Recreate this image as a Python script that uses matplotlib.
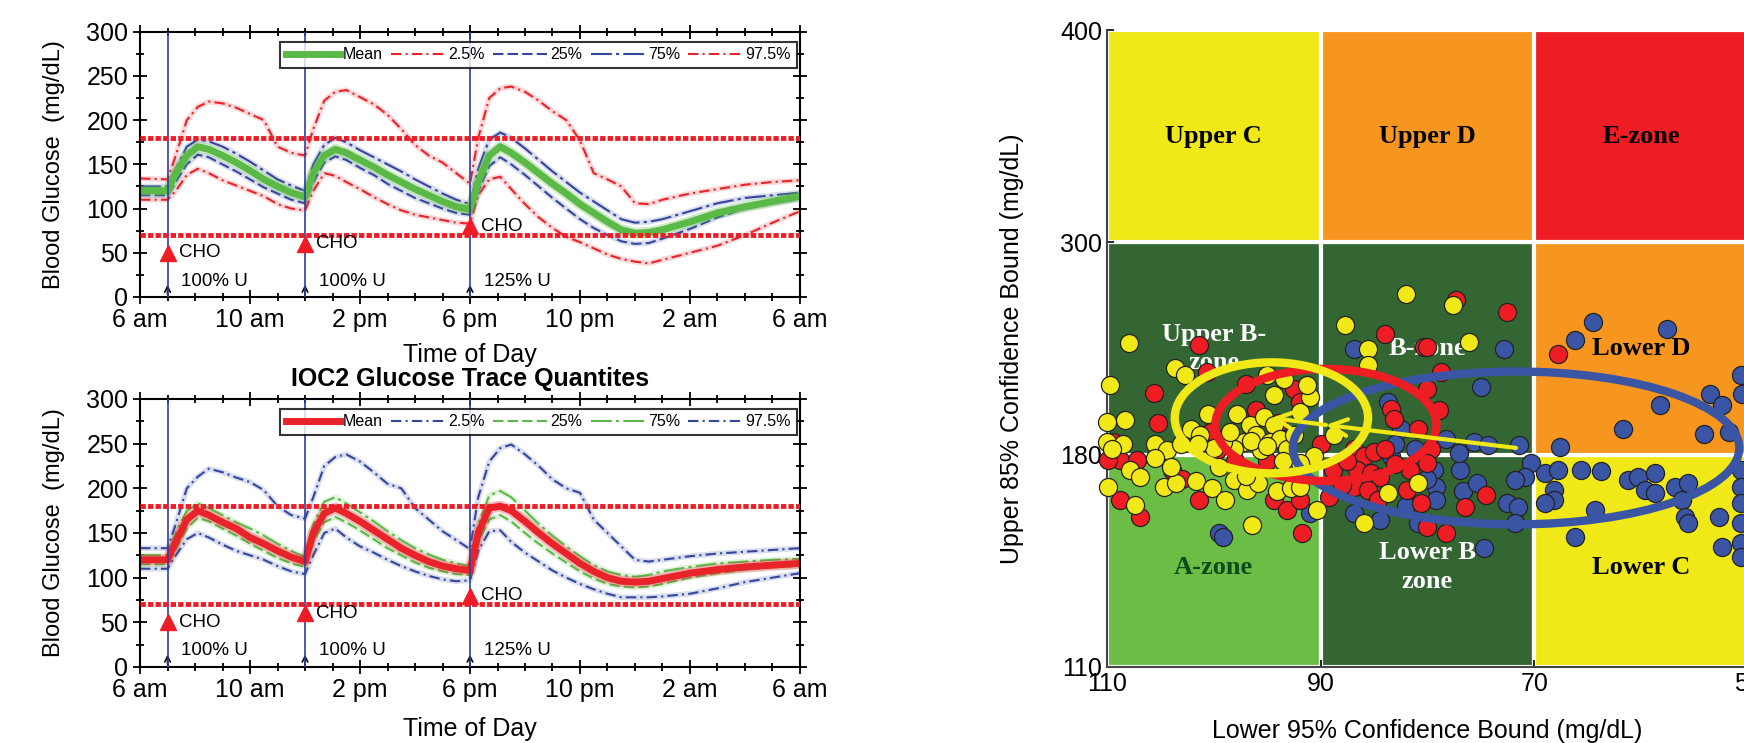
import matplotlib

matplotlib.use("Agg")
import matplotlib.pyplot as plt
import numpy as np
from matplotlib.patches import Rectangle, Ellipse
from matplotlib.ticker import MultipleLocator

plt.rcParams["font.family"] = ["Liberation Sans", "DejaVu Sans"]

# ---- glucose trace quantiles (hours after 6 am) ----
HOURS = [0, 1, 1.3, 1.7, 2.1, 2.5, 3, 3.5, 4, 4.5, 5, 5.5, 6,
         6.3, 6.7, 7.1, 7.5, 8, 8.5, 9, 9.5, 10, 10.5, 11, 11.5, 12,
         12.3, 12.7, 13.1, 13.5, 14, 14.5, 15, 15.5, 16, 16.5, 17, 17.5, 18, 18.5,
         19, 20, 21, 22, 23, 24]

TOP_MEAN = [120, 120, 140, 160, 170, 167, 160, 152, 143, 133, 125, 118, 113,
            140, 160, 167, 163, 155, 147, 138, 130, 122, 115, 108, 102, 99,
            130, 160, 170, 163, 152, 140, 128, 117, 105, 95, 85, 76, 72, 73,
            76, 85, 95, 102, 108, 114]
TOP_Q025 = [110, 110, 120, 138, 145, 140, 132, 126, 120, 114, 105, 100, 98,
            120, 140, 137, 130, 122, 113, 105, 98, 93, 90, 87, 84, 83,
            115, 133, 136, 122, 105, 90, 78, 68, 62, 55, 48, 43, 40, 38,
            42, 50, 58, 70, 84, 97]
TOP_Q25 = [115, 115, 130, 150, 161, 158, 150, 142, 133, 124, 117, 110, 106,
           130, 152, 159, 155, 146, 138, 128, 120, 112, 106, 100, 95, 93,
           120, 148, 158, 150, 138, 125, 112, 100, 88, 78, 70, 63, 60, 61,
           66, 77, 90, 100, 106, 111]
TOP_Q75 = [125, 125, 145, 170, 178, 176, 170, 162, 153, 143, 133, 126, 120,
           150, 172, 180, 175, 166, 158, 150, 142, 133, 125, 117, 110, 105,
           145, 178, 186, 180, 168, 155, 142, 130, 118, 108, 98, 88, 84, 85,
           88, 97, 106, 112, 115, 118]
TOP_Q975 = [134, 133, 160, 200, 215, 221, 219, 214, 207, 200, 170, 163, 160,
            190, 222, 232, 234, 226, 218, 206, 190, 172, 160, 152, 140, 128,
            180, 225, 236, 238, 232, 222, 210, 200, 177, 140, 133, 125, 106, 105,
            110, 117, 122, 127, 130, 132]

BOT_MEAN = [120, 120, 140, 165, 175, 170, 162, 155, 145, 138, 130, 123, 118,
            150, 172, 178, 172, 163, 153, 143, 133, 125, 118, 113, 110, 108,
            150, 178, 180, 175, 163, 150, 138, 127, 116, 107, 100, 96, 95, 96,
            99, 105, 109, 112, 114, 116]
BOT_Q025 = [110, 110, 125, 143, 150, 145, 137, 130, 125, 120, 113, 107, 104,
            125, 150, 155, 145, 135, 128, 120, 113, 107, 102, 98, 96, 97,
            130, 152, 153, 140, 128, 118, 108, 100, 93, 87, 82, 78, 78, 78,
            79, 82, 88, 95, 100, 105]
BOT_Q25 = [115, 115, 132, 155, 167, 163, 155, 147, 138, 130, 122, 116, 112,
           140, 162, 168, 162, 153, 143, 133, 125, 117, 111, 107, 104, 103,
           140, 165, 170, 163, 150, 138, 127, 117, 107, 99, 93, 90, 89, 90,
           93, 100, 105, 109, 112, 113]
BOT_Q75 = [125, 125, 150, 175, 183, 178, 170, 162, 155, 147, 138, 130, 123,
           160, 185, 190, 183, 173, 163, 152, 142, 133, 126, 120, 116, 113,
           160, 192, 197, 190, 175, 160, 147, 135, 124, 114, 107, 103, 101, 103,
           107, 112, 116, 118, 120, 121]
BOT_Q975 = [133, 133, 160, 200, 213, 222, 218, 212, 207, 198, 180, 170, 166,
            190, 225, 235, 238, 230, 218, 205, 200, 178, 165, 152, 142, 132,
            190, 230, 245, 249, 238, 225, 210, 200, 195, 165, 150, 135, 120, 118,
            120, 124, 127, 129, 131, 133]

TIME_TICKS = [0, 4, 8, 12, 16, 20, 24]
TIME_LABELS = ["6 am", "10 am", "2 pm", "6 pm", "10 pm", "2 am", "6 am"]
MEAL_HOURS = [1, 6, 12]
CHO_LEVEL = [50, 60, 80]
INSULIN_LABELS = ["100% U", "100% U", "125% U"]
TARGET_LIMITS = [70, 180]
QUANT_LABELS = ["Mean", "2.5%", "25%", "75%", "97.5%"]

# ---- error grid (right) ----
ZONE_X_EDGES = [110, 90, 70, 50]
ZONE_Y_EDGES = [110, 180, 300, 400]
ZONE_NAMES = [["A-zone", "Lower B\nzone", "Lower C"],
              ["Upper B-\nzone", "B-zone", "Lower D"],
              ["Upper C", "Upper D", "E-zone"]]
ZONE_COLORS = [["#6bbd45", "#336632", "#f1e917"],
               ["#336632", "#336632", "#f7961e"],
               ["#f1e917", "#f7961e", "#ee1d24"]]
ZONE_TEXT_COLORS = [["#0d4a1c", "white", "black"],
                    ["white", "white", "black"],
                    ["black", "black", "black"]]

YELLOW_X = [107.9, 109.7, 103.6, 102.7, 108.3, 110.0, 110.0, 105.5, 104.4, 103.1,
            102.1, 101.3, 100.5, 97.8, 96.6, 95.3, 94.4, 96.0, 97.2, 94.7,
            93.8, 93.1, 95.6, 98.1, 99.1, 92.5, 91.9, 91.0, 94.4, 95.0,
            93.4, 91.3, 107.8, 106.9, 109.9, 107.4, 104.7, 103.5, 101.7, 100.2,
            98.9, 98.1, 96.9, 95.9, 94.1, 92.8, 91.9, 90.3, 96.4, 90.6,
            91.9, 88.7, 87.7, 85.6, 85.6, 82.0, 83.7, 80.9, 85.9, 77.6,
            76.1, 96.5, 98.5, 95.0, 100.0, 101.5, 105.5, 108.5, 109.5, 104.0,
            97.0, 93.5, 99.5]
YELLOW_Y = [243.3, 219.6, 229.0, 224.8, 199.4, 198.5, 187.2, 186.2, 182.5, 186.2,
            194.7, 191.0, 203.2, 203.2, 196.6, 201.3, 196.6, 191.0, 187.2, 187.2,
            189.1, 183.4, 182.5, 183.4, 187.2, 191.0, 204.1, 212.6, 213.5, 224.8,
            222.9, 219.2, 175.0, 172.8, 169.5, 163.5, 169.5, 170.6, 171.2, 169.0,
            165.1, 171.7, 168.4, 170.6, 167.9, 169.0, 169.5, 161.8, 156.9, 179.4,
            177.2, 191.0, 253.1, 239.9, 230.5, 271.0, 167.3, 170.6, 157.4, 264.4,
            243.7, 188, 193, 185, 184, 186, 179, 186, 183, 176,
            173, 178, 176]
RED_X = [101.4, 100.6, 105.6, 105.2, 100.3, 97.0, 92.5, 91.9, 109.4, 108.8,
         109.9, 107.2, 103.9, 101.4, 99.7, 95.0, 94.4, 93.1, 91.9, 108.8,
         106.9, 91.7, 89.2, 84.0, 80.3, 83.4, 83.1, 86.9, 85.9, 85.0,
         84.0, 86.6, 85.3, 84.4, 86.9, 85.6, 84.6, 80.9, 81.6, 81.9,
         80.6, 88.8, 77.3, 72.5, 80.0, 78.7, 80.0, 78.9, 67.8, 79.7,
         80.0, 74.5, 76.5, 80.0, 78.3, 87.5, 83.0, 88.0, 96.0, 94.0,
         98.0, 103.0, 90.0]
RED_Y = [241.8, 226.7, 215.1, 198.1, 192.8, 220.1, 217.3, 209.8, 187.2, 178.3,
         178.3, 178.3, 175.0, 165.1, 182.5, 177.8, 165.1, 161.8, 165.1, 165.1,
         159.6, 154.1, 166.2, 248.4, 240.8, 206.0, 200.4, 183.4, 179.4, 181.5,
         183.4, 175.0, 173.9, 172.8, 169.5, 168.4, 165.1, 194.7, 175.0, 168.4,
         164.0, 175.0, 267.2, 260.6, 240.9, 226.7, 217.3, 205.1, 237.1, 183.4,
         177.2, 166.8, 162.9, 156.3, 154.1, 178, 177, 170, 205, 198,
         178, 172, 186]
BLUE_X = [99.5, 99.1, 86.9, 83.7, 82.5, 83.4, 81.2, 91.0, 86.9, 84.4,
          80.9, 64.5, 66.2, 57.6, 72.8, 75.0, 53.5, 52.4, 58.2, 61.7,
          54.1, 51.8, 50.6, 67.6, 71.4, 75.6, 74.3, 76.9, 79.4, 79.2,
          76.7, 79.2, 75.4, 72.5, 71.5, 70.3, 70.9, 71.8, 69.0, 67.8,
          68.1, 68.1, 69.0, 65.6, 63.7, 61.2, 60.3, 58.7, 59.6, 58.7,
          56.8, 55.6, 56.2, 64.3, 66.2, 74.7, 71.8, 55.9, 55.6, 52.7,
          52.4, 50.6, 50.6, 50.6, 50.6, 50.6, 50.6, 50.5, 78.3, 83.0,
          80.0, 77.0, 82.0]
BLUE_Y = [154.1, 153.0, 239.9, 209.8, 194.7, 179.4, 183.4, 160.7, 160.7, 158.5,
          157.4, 255.0, 244.6, 251.2, 239.9, 218.2, 214.5, 207.9, 207.9, 194.7,
          191.9, 192.8, 224.8, 184.4, 185.3, 187.2, 185.3, 175.0, 175.0, 169.5,
          167.9, 165.1, 170.6, 164.0, 162.9, 177.2, 172.8, 171.7, 173.9, 175.0,
          168.4, 165.1, 164.0, 175.0, 174.5, 171.7, 172.8, 173.9, 168.4, 167.3,
          169.5, 170.6, 165.1, 161.8, 153.0, 149.2, 157.4, 159.6, 157.4, 159.6,
          149.7, 175.0, 169.5, 164.0, 157.4, 150.8, 146.4, 214.5, 189.1, 186,
          172, 181, 163]

# confidence ellipses: centre (x, y in mg/dL), width (mg/dL), height (zone units)
ELLIPSE_CENTERS = [(71.7, 183.8), (89.5, 196.8), (94.6, 200.8)]
ELLIPSE_WIDTHS = [41.8, 20.7, 18.1]
ELLIPSE_HEIGHTS = [0.72, 0.528, 0.523]

RED = "#e8232a"
BLUE = "#34469e"
GREEN = "#5bb947"
YELLOW = "#f1e917"
DASHDOT = (0, (5, 2, 1, 2))
DASHED = (0, (5, 2))
LONGDASH = (0, (10, 2, 1.5, 2))


def zone_u(v):
    return np.interp(v, ZONE_Y_EDGES, [0, 1, 2, 3])


def draw_trace(ax, mean, q025, q25, q75, q975, mean_col, outer_col, inner_col, xpad):
    hrs = np.array(HOURS)
    specs = [(q025, outer_col, DASHDOT, "2.5%"), (q25, inner_col, DASHED, "25%"),
             (q75, inner_col, LONGDASH, "75%"), (q975, outer_col, DASHDOT, "97.5%")]
    handles = []
    for vals, col, ls, lab in specs:
        ax.plot(hrs, vals, color=col, lw=4, alpha=0.18, solid_capstyle="round")
        ln, = ax.plot(hrs, vals, color=col, lw=1.5, linestyle=ls, label=lab)
        handles.append(ln)
    ax.plot(hrs, mean, color=mean_col, lw=8, alpha=0.3)
    m, = ax.plot(hrs, mean, color=mean_col, lw=5, label="Mean")
    handles.insert(0, m)

    for lvl in TARGET_LIMITS:
        ax.axhline(lvl, color="#ee1c25", lw=3.5, linestyle=(0, (1.1, 0.45)), zorder=5)
    for h in MEAL_HOURS:
        ax.axvline(h, color="#2e3f9e", lw=1.2, zorder=4)

    ax.plot(MEAL_HOURS, CHO_LEVEL, "^", color="#ee1c25", ms=12, zorder=6, clip_on=False)
    for h, c, lab in zip(MEAL_HOURS, CHO_LEVEL, INSULIN_LABELS):
        ax.text(h + 0.4, c, "CHO", fontsize=13.5, va="center", ha="left", zorder=6)
        ax.annotate("", xy=(h, 17), xytext=(h, 0),
                    arrowprops=dict(arrowstyle="->", color="black", lw=1.2))
        ax.text(h + 0.5, 18, lab, fontsize=13.5, va="center", ha="left")

    ax.set_xlim(0, 24)
    ax.set_ylim(0, 300)
    ax.set_xticks(TIME_TICKS)
    ax.set_xticklabels(TIME_LABELS)
    ax.xaxis.set_minor_locator(MultipleLocator(1))
    ax.set_yticks(range(0, 301, 50))
    ax.yaxis.set_minor_locator(MultipleLocator(25))
    ax.tick_params(which="both", direction="inout", top=True, right=True, labelsize=18, width=1.3)
    ax.tick_params(which="major", length=10)
    ax.tick_params(which="minor", length=6)
    ax.tick_params(axis="x", pad=3)
    for s in ax.spines.values():
        s.set_linewidth(1.5)
    ax.set_xlabel("Time of Day", fontsize=18, labelpad=xpad)
    ax.set_ylabel("Blood Glucose  (mg/dL)", fontsize=17, labelpad=15)
    leg = ax.legend(handles=handles, labels=QUANT_LABELS, loc="upper right",
                    bbox_to_anchor=(1.0, 0.975), ncol=5, fontsize=11.5, frameon=True,
                    fancybox=False, edgecolor="black", handlelength=3.4,
                    handletextpad=0.2, columnspacing=0.5, borderpad=0.35,
                    borderaxespad=0.2)
    leg.get_frame().set_linewidth(1.5)
    leg.set_zorder(10)


fig = plt.figure(figsize=(17.44, 7.43), dpi=100)

ax1 = fig.add_axes([0.0803, 0.6003, 0.3784, 0.3570])
draw_trace(ax1, TOP_MEAN, TOP_Q025, TOP_Q25, TOP_Q75, TOP_Q975, GREEN, RED, BLUE, 8)

ax2 = fig.add_axes([0.0803, 0.1023, 0.3784, 0.3607])
draw_trace(ax2, BOT_MEAN, BOT_Q025, BOT_Q25, BOT_Q75, BOT_Q975, RED, BLUE, GREEN, 11)
ax2.set_title("IOC2 Glucose Trace Quantites", fontsize=18, fontweight="bold", pad=9)

# ---- right panel ----
ax3 = fig.add_axes([0.6347, 0.1023, 0.3675, 0.8573])
for r in range(3):
    for c in range(3):
        x0, x1 = ZONE_X_EDGES[c], ZONE_X_EDGES[c + 1]
        ax3.add_patch(Rectangle((x0, r), x1 - x0, 1, facecolor=ZONE_COLORS[r][c],
                                edgecolor="white", lw=3, zorder=1))
        ax3.text((x0 + x1) / 2, r + 0.5 if r else r + 0.47, ZONE_NAMES[r][c],
                 family=["Liberation Serif", "DejaVu Serif"], fontweight="bold",
                 fontsize=19, color=ZONE_TEXT_COLORS[r][c], ha="center",
                 va="center", linespacing=1.3, zorder=2)

for xs, ys, col in [(BLUE_X, BLUE_Y, "#3a55a4"), (RED_X, RED_Y, "#ee1d24"),
                    (YELLOW_X, YELLOW_Y, YELLOW)]:
    ax3.scatter(xs, zone_u(ys), s=170, color=col, edgecolor="#222222",
                linewidth=0.9, zorder=3, clip_on=False)

for (cx, cy), w, h, col in zip(ELLIPSE_CENTERS, ELLIPSE_WIDTHS, ELLIPSE_HEIGHTS,
                               ["#3a55a4", "#ee1d24", YELLOW]):
    ax3.add_patch(Ellipse((cx, zone_u(cy)), w, h, fill=False, edgecolor=col,
                          lw=6, zorder=4))

# arrow: blue centre -> red centre -> yellow centre
for (sx, sy), (ex, ey) in zip(ELLIPSE_CENTERS[:-1], ELLIPSE_CENTERS[1:]):
    ax3.annotate("", xy=(ex, zone_u(ey)), xytext=(sx, zone_u(sy)),
                 arrowprops=dict(arrowstyle="->", color=YELLOW, lw=3,
                                 mutation_scale=30, shrinkA=0, shrinkB=0),
                 zorder=5)

ax3.set_xlim(110, 50)
ax3.set_ylim(0, 3)
ax3.set_xticks(ZONE_X_EDGES)
ax3.set_yticks([0, 1, 2, 3])
ax3.set_yticklabels([str(v) for v in ZONE_Y_EDGES])
ax3.tick_params(direction="in", length=5, labelsize=18, width=1.2)
for side in ["top", "right"]:
    ax3.spines[side].set_visible(False)
for side in ["left", "bottom"]:
    ax3.spines[side].set_linewidth(1.5)
    ax3.spines[side].set_color("#444444")
ax3.set_xlabel("Lower 95% Confidence Bound (mg/dL)", fontsize=18, labelpad=17)
ax3.set_ylabel("Upper 85% Confidence Bound (mg/dL)", fontsize=18, labelpad=26)

fig.savefig("out.png", dpi=100)
